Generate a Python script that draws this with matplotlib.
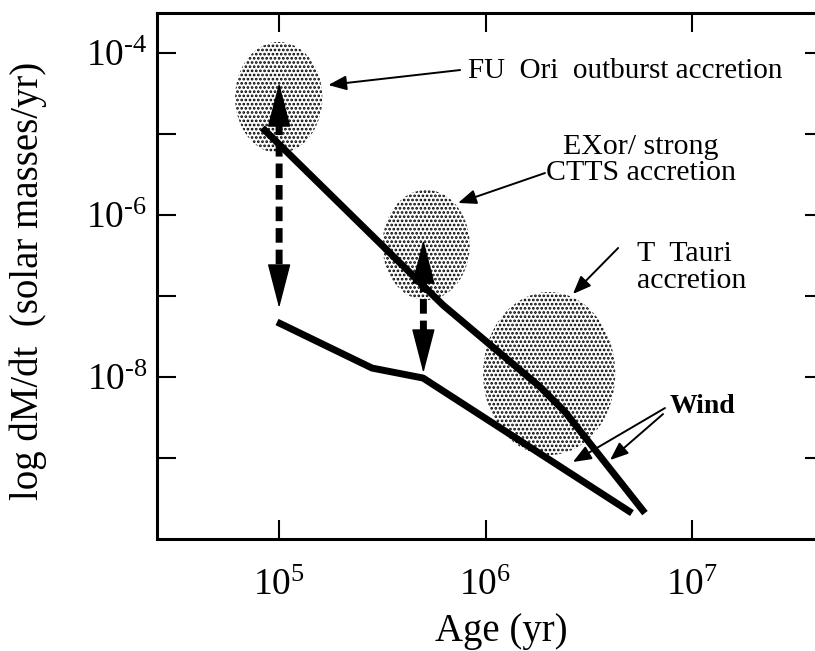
import numpy as np
import matplotlib
matplotlib.use('Agg')
import matplotlib.pyplot as plt

plt.rcParams['font.family'] = 'Liberation Serif'
plt.rcParams['mathtext.fontset'] = 'custom'
plt.rcParams['mathtext.rm'] = 'Liberation Serif'
plt.rcParams['mathtext.it'] = 'Liberation Serif:italic'
plt.rcParams['hatch.linewidth'] = 1.3

# accretion track (upper) and wind track (lower)
acc_age = [8.3e4, 6.22e5, 1.84e6, 2.43e6, 5.92e6]
acc_rate = [1.19e-5, 7.74e-8, 7.53e-9, 3.70e-9, 2.09e-10]
wind_age = [9.77e4, 2.82e5, 4.98e5, 5.12e6]
wind_rate = [4.78e-8, 1.29e-8, 9.72e-9, 2.09e-10]

# dashed double arrows: age, top, bottom
jump_age = [1.0e5, 5.0e5]
jump_top = [4.27e-5, 4.91e-7]
jump_bot = [7.11e-8, 1.12e-8]

# stippled regions: age range, rate range
blob_names = ['FU Ori', 'EXor', 'T Tauri']
blob_age = [(6.12e4, 1.62e5), (3.17e5, 8.38e5), (9.73e5, 4.25e6)]
blob_rate = [(5.83e-6, 1.37e-4), (8.93e-8, 2.04e-6), (1.09e-9, 1.12e-7)]

yticks = [1e-9, 1e-8, 1e-7, 1e-6, 1e-5, 1e-4]
ytick_labels = ['', '$10^{\u20108}$', '', '$10^{\u20106}$', '', '$10^{\u20104}$']
xticks = [1e5, 1e6, 1e7]
xtick_labels = [r'$10^{5}$', r'$10^{6}$', r'$10^{7}$']

fig = plt.figure(figsize=(8.15, 6.51), dpi=100)
ax = fig.add_axes([0.1926, 0.1720, 0.8184, 0.8080])
ax.set_xscale('log')
ax.set_yscale('log')
ax.set_xlim(2.56e4, 4.36e7)
ax.set_ylim(1e-10, 3.12e-4)

# stippled blobs (ellipses in log space)
t = np.linspace(0, 2 * np.pi, 200)
for (x0, x1), (y0, y1) in zip(blob_age, blob_rate):
    cx, rx = (np.log10(x0) + np.log10(x1)) / 2, (np.log10(x1) - np.log10(x0)) / 2
    cy, ry = (np.log10(y0) + np.log10(y1)) / 2, (np.log10(y1) - np.log10(y0)) / 2
    ax.fill(10 ** (cx + rx * np.cos(t)), 10 ** (cy + ry * np.sin(t)),
            facecolor='white', edgecolor='black', linewidth=0, hatch='....', zorder=1)

ax.plot(acc_age, acc_rate, color='black', lw=5, solid_capstyle='butt', zorder=3)
ax.plot(wind_age, wind_rate, color='black', lw=5, solid_capstyle='butt', zorder=3)

# dashed double arrows
for x, ytop, ybot in zip(jump_age, jump_top, jump_bot):
    ax.annotate('', xy=(x, ybot), xytext=(x, ytop),
                arrowprops=dict(arrowstyle='-', lw=5, linestyle=(0, (2.1, 1.0)),
                                color='black', shrinkA=27, shrinkB=27, capstyle='butt'),
                zorder=4)
    for y, dy in [(ytop, -29), (ybot, 29)]:
        ax.annotate('', xy=(x, y), xytext=(0, dy), textcoords='offset points',
                    arrowprops=dict(arrowstyle='-|>,head_length=2.9,head_width=0.75',
                                    mutation_scale=10, lw=1, color='black',
                                    shrinkA=0, shrinkB=0), zorder=4)

# labels with thin arrows
arrow_kw = dict(arrowstyle='-|>,head_length=0.55,head_width=0.22', mutation_scale=20,
                lw=1.4, color='black', shrinkA=0, shrinkB=0)
ax.text(8.22e5, 4.91e-5, 'FU  Ori  outburst accretion', fontsize=21, va='baseline', ha='left')
ax.annotate('', xy=(1.73e5, 4.03e-5), xytext=(7.53e5, 6.17e-5), arrowprops=arrow_kw)

ax.text(5.66e6, 4.78e-6, 'EXor/ strong\nCTTS accretion', fontsize=21.5, va='center',
        ha='center', linespacing=0.98)
ax.annotate('', xy=(7.36e5, 1.41e-6), xytext=(1.94e6, 3.30e-6), arrowprops=arrow_kw)

ax.text(5.42e6, 2.25e-7, 'T  Tauri\naccretion', fontsize=21.5, va='center', ha='left',
        linespacing=1.05)
ax.annotate('', xy=(2.65e6, 1.06e-7), xytext=(4.39e6, 3.92e-7), arrowprops=arrow_kw)

ax.text(7.82e6, 3.60e-9, 'Wind', fontsize=20, fontweight='bold', va='baseline', ha='left')
ax.annotate('', xy=(2.65e6, 8.93e-10), xytext=(7.40e6, 4.14e-9), arrowprops=arrow_kw)
ax.annotate('', xy=(4.01e6, 9.44e-10), xytext=(7.24e6, 3.49e-9), arrowprops=arrow_kw)

# axes styling
ax.minorticks_off()
ax.set_xticks(xticks)
ax.set_xticklabels(xtick_labels)
ax.set_yticks(yticks)
ax.set_yticklabels(ytick_labels)
ax.tick_params(axis='both', which='major', direction='in', length=14, width=1.5,
               top=True, right=True, labelsize=27)
ax.tick_params(axis='x', pad=21)
ax.tick_params(axis='y', pad=7)
for sp in ax.spines.values():
    sp.set_linewidth(2.2)
ax.spines['right'].set_visible(False)

ax.set_xlabel('Age (yr)', fontsize=28)
ax.set_ylabel('log dM/dt  (solar masses/yr)', fontsize=28)
ax.xaxis.set_label_coords(0.516, -0.14)
ax.yaxis.set_label_coords(-0.165, 0.49)

plt.savefig('out.png', dpi=100)
plt.close()
